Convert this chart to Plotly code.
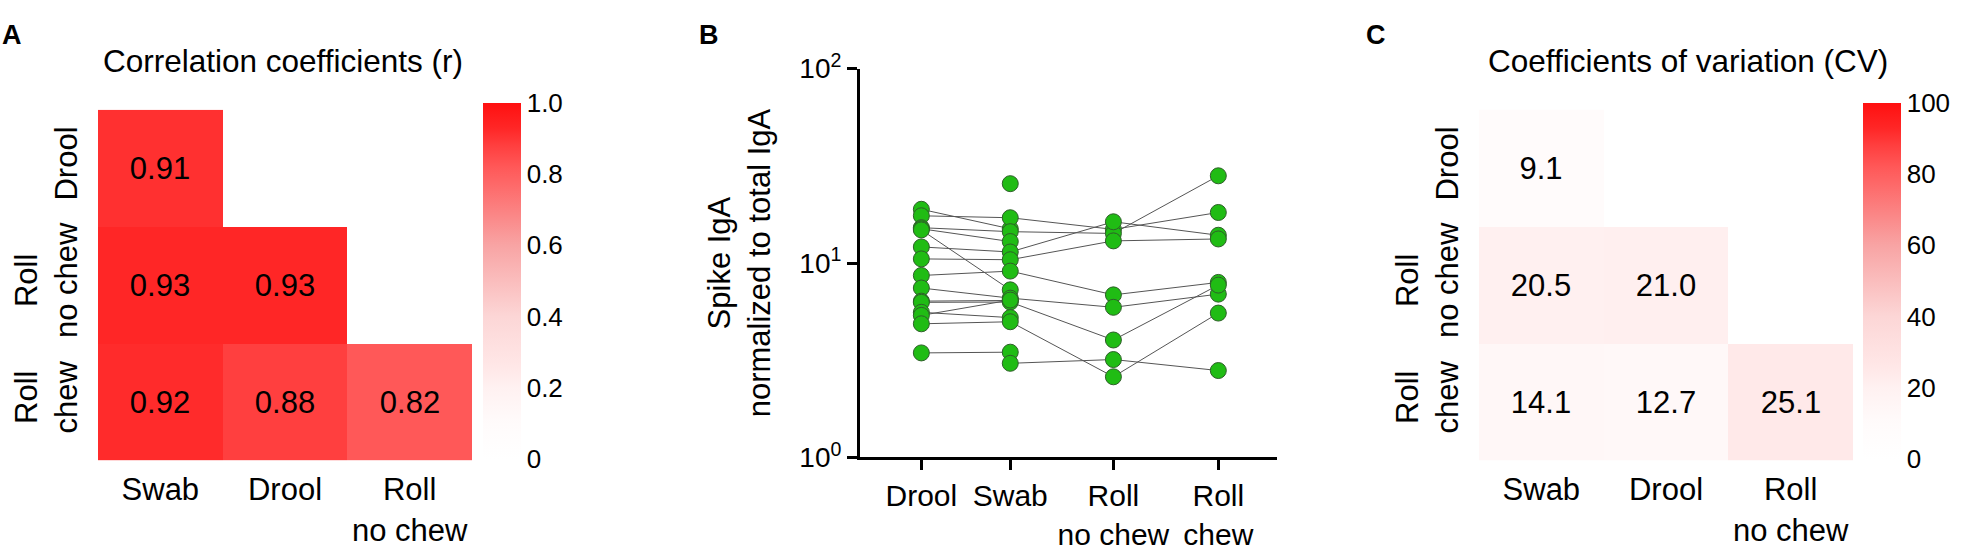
import plotly.graph_objects as go

# ---- panel A: correlation coefficients (lower triangle) ----
heat_cols = ['Swab', 'Drool', 'Roll<br>no chew']
heat_rows = ['Roll<br>chew', 'Roll<br>no chew', 'Drool']   # bottom to top

r_values = [
    [0.92, 0.88, 0.82],
    [0.93, 0.93, None],
    [0.91, None, None],
]

# ---- panel C: coefficients of variation ----
cv_values = [
    [14.1, 12.7, 25.1],
    [20.5, 21.0, None],
    [9.1, None, None],
]

# ---- panel B: spike IgA / total IgA, one entry per subject ----
groups = ['Drool', 'Swab', 'Roll<br>no chew', 'Roll<br>chew']
drool = [18.9, 17.5, 15.2, 15.0, 14.8, 12.1, 10.5, 8.63, 7.44, 6.37, 6.28,
         5.58, 5.38, 4.87, 3.45, None, None]
swab = [15.0, 17.1, 14.5, 12.9, 7.28, 11.4, 10.4, 9.09, 6.6, 6.42, 6.3,
        5.24, 6.45, 4.99, 3.48, 3.05, 25.6]
roll_no_chew = [None, 14.9, 14.2, None, None, 16.3, 13.0, 6.86, 5.92, None, 4.02,
                None, None, 2.60, None, 3.19, None]
roll_chew = [None, 18.2, 28.1, None, None, 13.9, 13.3, 7.95, 6.92, None, 7.7,
             None, None, 5.53, None, 2.80, None]

# uneven slot spacing as in the original figure
slot_x = [1, 2, 3.16, 4.34]

FONT = 'Liberation Sans, Arial, sans-serif'
reds = [
    [0.0, '#FFFFFF'], [0.1, '#FFFBFB'], [0.2, '#FFF1F1'], [0.26, '#FFE7E7'],
    [0.4, '#FCD6D6'], [0.6, '#F8A4A4'], [0.82, '#FF5858'], [0.88, '#FF3F3F'],
    [0.93, '#FF2626'], [1.0, '#FF1010'],
]


def cell_text(rows, fmt):
    return [[('' if v is None else fmt.format(v)) for v in row] for row in rows]


fig = go.Figure()

fig.add_trace(go.Heatmap(
    x=heat_cols, y=heat_rows, z=r_values, zmin=0, zmax=1,
    colorscale=reds, text=cell_text(r_values, '{:.2f}'), texttemplate='%{text}',
    textfont=dict(size=31, color='black', family=FONT),
    hoverongaps=False, xaxis='x', yaxis='y',
    colorbar=dict(x=483 / 1961, xanchor='left', xpad=0, y=1 - 279 / 552, yanchor='middle',
                  len=376, lenmode='pixels', thickness=38, outlinewidth=0,
                  tickvals=[0, 0.2, 0.4, 0.6, 0.8, 1.0],
                  ticktext=['0', '0.2', '0.4', '0.6', '0.8', '1.0'],
                  tickfont=dict(size=26, family=FONT, color='black')),
))

fig.add_trace(go.Heatmap(
    x=heat_cols, y=heat_rows, z=cv_values, zmin=0, zmax=100,
    colorscale=reds, text=cell_text(cv_values, '{:.1f}'), texttemplate='%{text}',
    textfont=dict(size=31, color='black', family=FONT),
    hoverongaps=False, xaxis='x3', yaxis='y3',
    colorbar=dict(x=1863 / 1961, xanchor='left', xpad=0, y=1 - 279 / 552, yanchor='middle',
                  len=376, lenmode='pixels', thickness=38, outlinewidth=0,
                  tickvals=[0, 20, 40, 60, 80, 100],
                  tickfont=dict(size=26, family=FONT, color='black')),
))

# paired lines, broken where a sample is missing
line_x, line_y = [], []
for vals in zip(drool, swab, roll_no_chew, roll_chew):
    line_x += slot_x + [None]
    line_y += list(vals) + [None]
fig.add_trace(go.Scatter(
    x=line_x, y=line_y, mode='lines', connectgaps=False,
    line=dict(color='#555555', width=1), hoverinfo='skip',
    xaxis='x2', yaxis='y2', showlegend=False,
))

pt_x, pt_y = [], []
for xpos, col in zip(slot_x, [drool, swab, roll_no_chew, roll_chew]):
    for v in col:
        if v is not None:
            pt_x.append(xpos)
            pt_y.append(v)
fig.add_trace(go.Scatter(
    x=pt_x, y=pt_y, mode='markers',
    marker=dict(size=16, color='#20BC14', line=dict(color='#2F5F2A', width=1)),
    xaxis='x2', yaxis='y2', showlegend=False,
))

heat_y_dom = [1 - 471 / 552, 1 - 96 / 552]
heat_axis = dict(showgrid=False, zeroline=False, showline=False, ticks='',
                 tickfont=dict(size=31, family=FONT, color='black'), fixedrange=True)

fig.update_layout(
    width=1961, height=552, autosize=False,
    margin=dict(l=0, r=0, t=0, b=0),
    paper_bgcolor='white', plot_bgcolor='white',
    font=dict(family=FONT, color='black'),
    showlegend=False,
    xaxis=dict(domain=[98 / 1961, 472 / 1961], anchor='y', ticklabelstandoff=8, **heat_axis),
    yaxis=dict(domain=heat_y_dom, anchor='x', tickangle=-90, ticklabelstandoff=14, **heat_axis),
    xaxis3=dict(domain=[1479 / 1961, 1853 / 1961], anchor='y3', ticklabelstandoff=8, **heat_axis),
    yaxis3=dict(domain=heat_y_dom, anchor='x3', tickangle=-90, ticklabelstandoff=14, **heat_axis),
    xaxis2=dict(domain=[860 / 1961, 1277 / 1961], anchor='y2', range=[0.31, 5.0],
                tickvals=slot_x, ticktext=groups, showgrid=False, zeroline=False,
                showline=True, linecolor='black', linewidth=3,
                ticks='outside', ticklen=10, tickwidth=3, tickcolor='black',
                tickfont=dict(size=30, family=FONT, color='black')),
    yaxis2=dict(domain=[1 - 468 / 552, 1 - 52 / 552], anchor='x2', type='log',
                range=[0, 2], tickvals=[1, 10, 100],
                ticktext=['10<sup>0</sup>', '10<sup>1</sup>', '10<sup>2</sup>'],
                showgrid=False, zeroline=False, showline=True, linecolor='black',
                linewidth=3, ticks='outside', ticklen=10, tickwidth=3, tickcolor='black',
                tickfont=dict(size=28, family=FONT, color='black'),
                title=dict(text='Spike IgA<br>normalized to total IgA',
                           font=dict(size=31, family=FONT, color='black'), standoff=20)),
)

annots = [
    dict(text='<b>A</b>', x=0, y=1 - 16 / 552, xanchor='left', size=27),
    dict(text='<b>B</b>', x=697 / 1961, y=1 - 16 / 552, xanchor='left', size=27),
    dict(text='<b>C</b>', x=1364 / 1961, y=1 - 16 / 552, xanchor='left', size=27),
    dict(text='Correlation coefficients (r)', x=283 / 1961, y=1 - 44 / 552, xanchor='center', size=31.5),
    dict(text='Coefficients of variation (CV)', x=1688 / 1961, y=1 - 44 / 552, xanchor='center', size=31.5),
]
for a in annots:
    fig.add_annotation(text=a['text'], x=a['x'], y=a['y'], xref='paper', yref='paper',
                       xanchor=a['xanchor'], yanchor='middle', showarrow=False,
                       font=dict(size=a['size'], family=FONT, color='black'))

# drop the default page margin so the figure sits at the window's corner
fig.write_html("out.html", config={'displayModeBar': False},
               post_script="document.body.style.margin='0';")
